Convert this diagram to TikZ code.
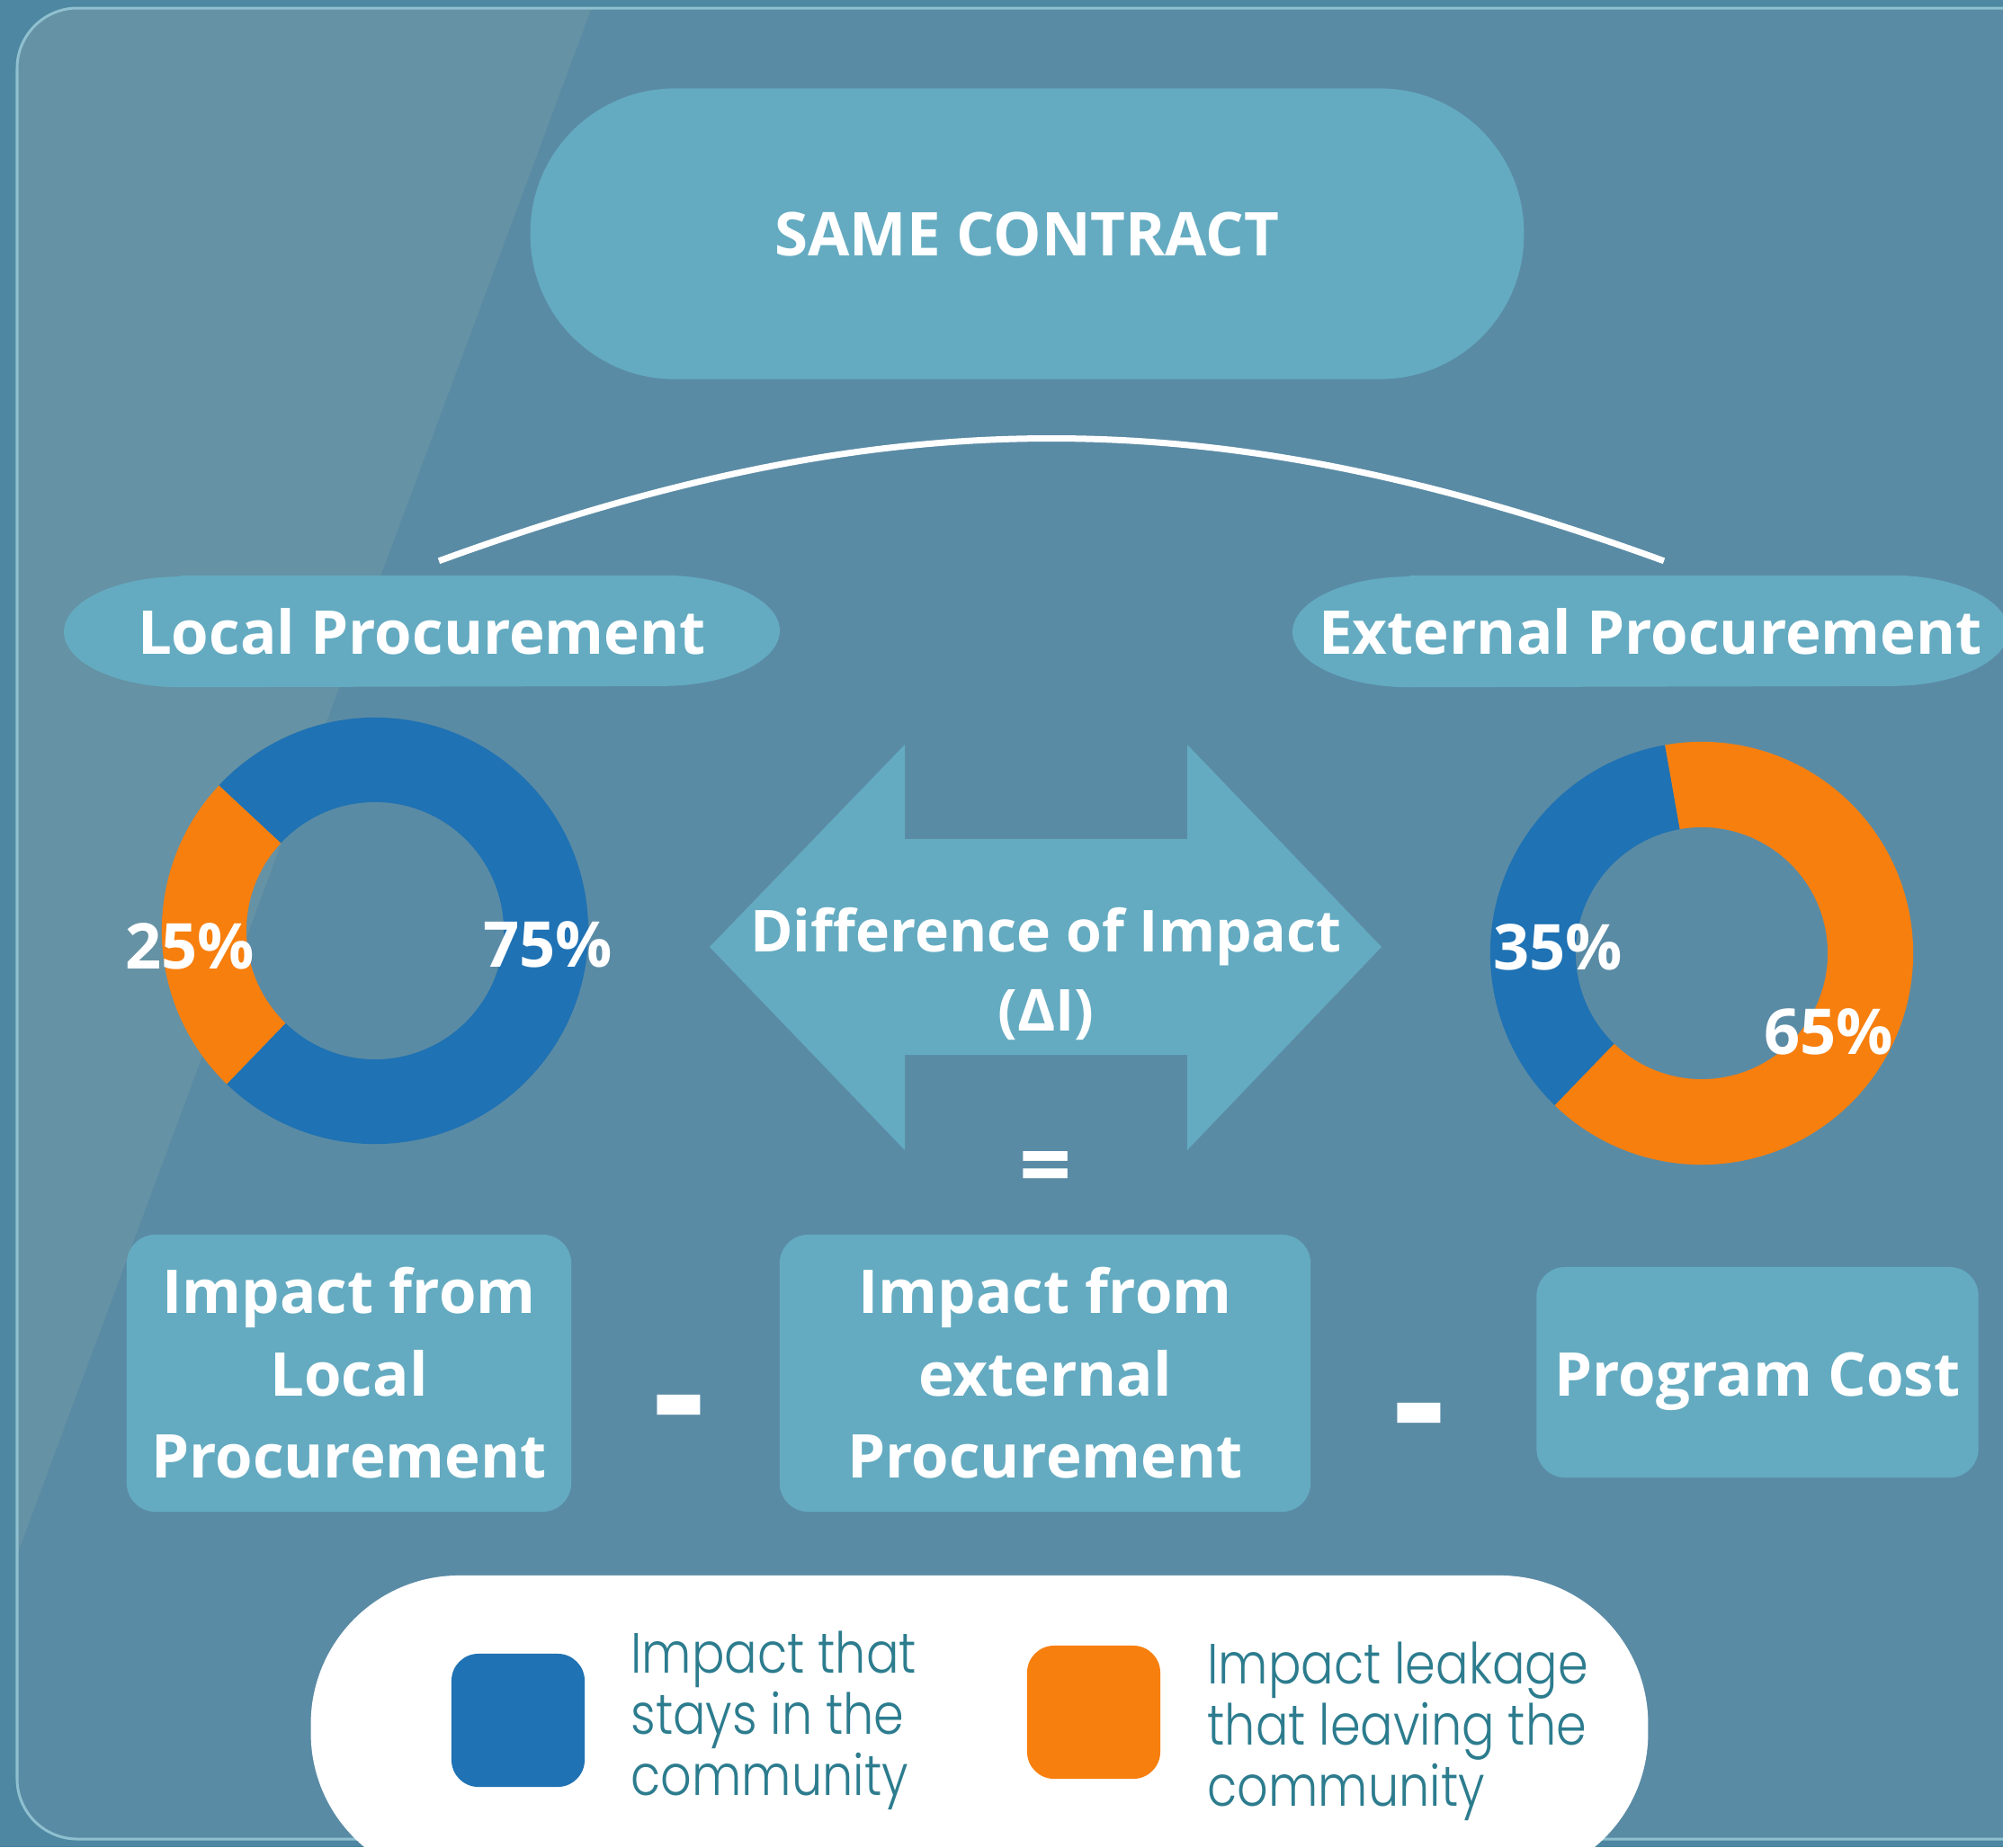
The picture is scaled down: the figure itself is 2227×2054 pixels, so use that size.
\documentclass[tikz,border=0pt]{standalone}
\usepackage{fontspec}
\setmainfont{Open Sans}
\newfontfamily\keyfont{Poppins Light}[FakeStretch=0.86]
\usepackage{xcolor}
\usetikzlibrary{positioning}

\definecolor{deep}{HTML}{4D87A1}
\definecolor{panel}{HTML}{5A8BA5}
\definecolor{haze}{HTML}{6592A4}
\definecolor{rim}{HTML}{8FC0D0}
\definecolor{tile}{HTML}{64ABC1}
\definecolor{stay}{HTML}{1F72B3}
\definecolor{leak}{HTML}{F77F0E}
\definecolor{keyink}{HTML}{2C7C8E}

\pgfdeclarelayer{backdrop}
\pgfdeclarelayer{underlay}
\pgfsetlayers{backdrop,underlay,main}

% flat-topped oval behind a node, with elliptic ends
\newcommand\ovalfill[1]{%
  \begin{pgfonlayer}{underlay}
    \fill[tile] ([xshift=1.3cm]#1.north west) -- ([xshift=-1.3cm]#1.north east)
      arc[start angle=90, end angle=-90, x radius=1.3cm, y radius=0.615cm]
      -- ([xshift=1.3cm]#1.south west)
      arc[start angle=270, end angle=90, x radius=1.3cm, y radius=0.615cm] -- cycle;
  \end{pgfonlayer}}

\begin{document}
\begin{tikzpicture}[
  x=0.01cm, y=-0.01cm,
  lbl/.style={text=white, font=\bfseries\fontsize{19.1}{26}\selectfont, align=center, inner sep=0pt},
  tilebox/.style={lbl, fill=tile, rounded corners=0.32cm},
  oval/.style={lbl, minimum width=7.94cm, minimum height=1.23cm},
  pct/.style={text=white, font=\bfseries\fontsize{20}{24}\selectfont, inner sep=0pt},
  sign/.style={text=white, font=\bfseries\fontsize{#1}{#1}\selectfont, inner sep=0pt},
  swatch/.style={rounded corners=0.3cm, minimum size=1.48cm, inner sep=0pt},
  keytext/.style={text=keyink, font=\keyfont\fontsize{17.9}{19.35}\selectfont, align=left, inner sep=0pt},
  link/.style={white, line width=0.07cm}]
\useasboundingbox (0,0) rectangle (2227,2054);
\clip (0,0) rectangle (2227,2054);

% backdrop and frame
\begin{pgfonlayer}{backdrop}
  \fill[deep] (0,0) rectangle (2227,2054);
  \fill[panel, rounded corners=0.67cm] (19,9) rectangle (2300,2045);
  \begin{scope}
    \clip[rounded corners=0.67cm] (19,9) rectangle (2300,2045);
    \fill[haze] (0,0) -- (661,0) -- (0,1780) -- cycle;
  \end{scope}
  \draw[rim, line width=0.03cm, rounded corners=0.67cm] (19,9) rectangle (2300,2045);
\end{pgfonlayer}

\node[lbl, fill=tile, minimum width=11.04cm, minimum height=3.23cm, rounded corners=1.6cm] (same) at (1142,260) {SAME CONTRACT};
\node[oval] (lp) at (469,702) {Local Procurement};
\node[oval] (ep) at (1835,702) {External Procurement};
\ovalfill{lp}
\ovalfill{ep}
\draw[link] ([xshift=0.19cm, yshift=0.16cm]lp.north) to[bend left=20] ([xshift=0.15cm, yshift=0.16cm]ep.north);

% donuts
\foreach \cx/\cy/\ro/\ri/\a/\b/\c in {417/1035/2.37/1.43/137/226/leak, 417/1035/2.37/1.43/226/497/stay,
    1892/1060/2.35/1.40/100/226/stay, 1892/1060/2.35/1.40/226/460/leak}
  \fill[\c, shift={(\cx,\cy)}] (\a:\ro cm) arc[start angle=\a, end angle=\b, radius=\ro cm]
    -- (\b:\ri cm) arc[start angle=\b, end angle=\a, radius=\ri cm] -- cycle;
\node[pct] (l25) at (211,1052) {25\%};
\node[pct] (l75) at (609,1050) {75\%};
\node[pct] (e35) at (1732,1053) {35\%};
\node[pct] (e65) at (2033,1147) {65\%};

% two-headed arrow
\fill[tile] (789,1053) -- (1006,828) -- (1006,933) -- (1320,933) -- (1320,828) -- (1536,1053)
  -- (1320,1279) -- (1320,1173) -- (1006,1173) -- (1006,1279) -- cycle;
\node[lbl, font=\bfseries\fontsize{18.3}{25}\selectfont] (diff) at (1163,1083) {Difference of Impact\\(ΔI)};
\node[sign=29] (eq) at (1163,1306) {=};

% the equation
\node[tilebox, minimum width=4.94cm, minimum height=3.08cm] (localimp) at (388,1527) {Impact from\\Local\\Procurement};
\node[tilebox, minimum width=5.90cm, minimum height=3.08cm] (extimp) at (1162,1527) {Impact from\\external\\Procurement};
\node[tilebox, minimum width=4.91cm, minimum height=2.34cm, text height=14.8pt, text depth=0pt] (cost) at (1954,1526) {Program Cost};
\node[sign=52] (minusa) at (755,1581) {-};
\node[sign=52] (minusb) at (1578,1590) {-};

% legend
\node[fill=white, rounded corners=1.65cm, minimum width=14.86cm, minimum height=3.4cm] (key) at (1089,1922) {};
\node[swatch, fill=stay] (stayswatch) at (576,1913) {};
\node[swatch, fill=leak] (leakswatch) at (1216,1904) {};
\node[keytext, right=0.5cm of stayswatch] (staytext) {Impact that\\stays in the\\community};
\node[keytext, right=0.51cm of leakswatch, yshift=-0.21cm] (leaktext) {Impact leakage\\that leaving the\\community};
\end{tikzpicture}
\end{document}
